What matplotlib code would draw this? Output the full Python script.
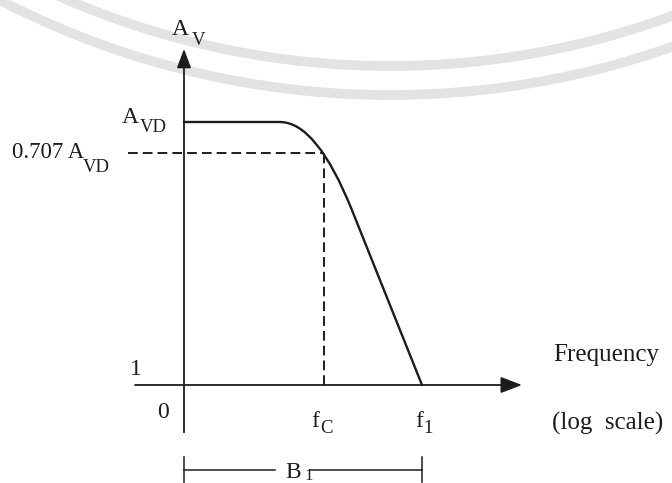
import matplotlib
matplotlib.use("Agg")
import matplotlib.pyplot as plt
from matplotlib.path import Path
from matplotlib.patches import PathPatch, FancyArrowPatch, ArrowStyle, Arc

plt.rcParams["font.family"] = ["Liberation Serif", "DejaVu Serif"]

INK = "#1c1c1c"

# gain levels on the vertical axis (schematic log gain, unity gain sits on the x axis)
gain_avd = 1.0
gain_half_power = 0.882
gain_unity = 0.0

# frequency markers on the horizontal axis (schematic log frequency)
f_c = 4.12
f_1 = 7.0

# open-loop response: flat passband, rounded knee, straight roll-off to unity gain
resp_x = [0.0, 2.82, 3.90, 4.94, f_1]
resp_y = [gain_avd, gain_avd, gain_avd, 0.665, gain_unity]
resp_codes = [Path.MOVETO, Path.LINETO, Path.CURVE3, Path.CURVE3, Path.LINETO]

# axis extents
x_axis = [-1.44, 9.94]
y_axis = [-0.18, 1.278]
bracket_y = -0.323

# px per unit (figure is drawn at 100 dpi)
PX_X, PX_Y = 34.0, 263.0
ORIGIN_PX = (184, 385)

fig = plt.figure(figsize=(6.72, 4.83), dpi=100)
ax = fig.add_axes([0, 0, 1, 1])
ax.set_xlim(-ORIGIN_PX[0] / PX_X, (672 - ORIGIN_PX[0]) / PX_X)
ax.set_ylim(-(483 - ORIGIN_PX[1]) / PX_Y, ORIGIN_PX[1] / PX_Y)
ax.axis("off")

# faint seal watermark behind the drawing
for r_px, bottom_px in [(820, 66), (850, 95)]:
    cx = (390 - ORIGIN_PX[0]) / PX_X
    cy = (ORIGIN_PX[1] - (bottom_px - r_px)) / PX_Y
    ax.add_patch(Arc((cx, cy), 2 * r_px / PX_X, 2 * r_px / PX_Y,
                     color="#e3e3e3", lw=7, zorder=0))

# axes with arrow heads
ax.add_patch(FancyArrowPatch((x_axis[0], 0), (x_axis[1], 0),
                             arrowstyle=ArrowStyle("-|>", head_length=13, head_width=5),
                             mutation_scale=1, lw=1.3, color=INK,
                             shrinkA=0, shrinkB=0, zorder=3))
ax.add_patch(FancyArrowPatch((0, y_axis[0]), (0, y_axis[1]),
                             arrowstyle=ArrowStyle("-|>", head_length=11.5, head_width=4.3),
                             mutation_scale=1, lw=1.3, color=INK,
                             shrinkA=0, shrinkB=0, zorder=3))

# response curve
curve = Path(list(zip(resp_x, resp_y)), resp_codes)
ax.add_patch(PathPatch(curve, fill=False, lw=1.7, ec=INK, zorder=3,
                       capstyle="round", joinstyle="round"))

# -3 dB guide lines
dash = (0, (5, 2.6))
ax.plot([-1.65, f_c], [gain_half_power, gain_half_power], ls=dash, lw=1.4, color=INK)
ax.plot([f_c, f_c], [gain_unity, gain_half_power], ls=dash, lw=1.4, color=INK)

# bandwidth bracket
ax.plot([0, 2.68], [bracket_y, bracket_y], lw=1.1, color=INK)
ax.plot([3.7, f_1], [bracket_y, bracket_y], lw=1.1, color=INK)
for xb in (0, f_1):
    ax.plot([xb, xb], [bracket_y - 0.0475, bracket_y + 0.0475], lw=1.1, color=INK)


def label(anchor, base, sub, base_off, sub_off, size=17, sub_size=13.5):
    ax.annotate(base, xy=anchor, xytext=base_off, textcoords="offset pixels",
                ha="left", va="baseline", fontsize=size, color=INK)
    if sub:
        ax.annotate(sub, xy=anchor, xytext=sub_off, textcoords="offset pixels",
                    ha="left", va="baseline", fontsize=sub_size, color=INK)


label((0, y_axis[1]), "A", "V", (-12, 14), (8, 4))
label((0, gain_avd), "A", "VD", (-62, -1), (-44, -10))
label((0, gain_half_power), "0.707 A", "VD", (-172, -5), (-101, -19), size=16.5)
label((0, gain_unity), "1", None, (-54, 10), None)
label((0, gain_unity), "0", None, (-27, -33), None)
label((f_c, gain_unity), "f", "C", (-13, -42), (-4, -48))
label((f_1, gain_unity), "f", "1", (-7, -42), (1, -48))
label((x_axis[1], 0), "Frequency", None, (31, 24), None, size=18)
label((x_axis[1], 0), "(log  scale)", None, (30, -45), None, size=18)
label((0, bracket_y), "B", "1", (101, -8), (120, -10), sub_size=12)

fig.savefig("out.png", dpi=100, facecolor="white")
